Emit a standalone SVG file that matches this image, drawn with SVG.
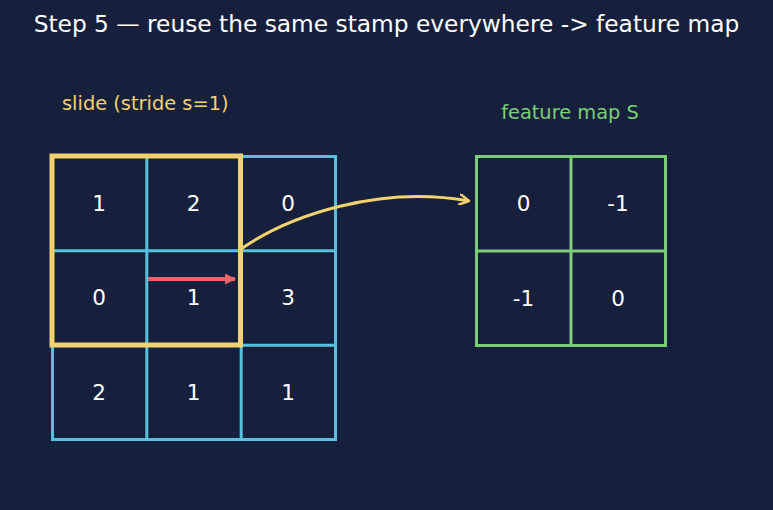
<svg xmlns="http://www.w3.org/2000/svg" width="773" height="510" viewBox="0 0 773 510">
<style>
text{font-family:"DejaVu Sans","Liberation Sans",sans-serif}
.t{fill:#ffffff;font-size:23.3px;text-anchor:middle}
.n{fill:#ffffff;font-size:21.5px;text-anchor:middle;dominant-baseline:central}
.cb{fill:none;stroke:#56c1dc;stroke-width:3}
.cg{fill:none;stroke:#7ccd78;stroke-width:3}
</style>
<defs>
<marker id="ah" viewBox="0 0 12 12" refX="10" refY="6" markerWidth="12" markerHeight="12" markerUnits="userSpaceOnUse" orient="auto">
<path d="M1,1 L10,6 L1,11" fill="none" stroke="#f2d16f" stroke-width="2.5" stroke-linecap="round" stroke-linejoin="round"/>
</marker>
<marker id="rh" viewBox="0 0 10 10" refX="9" refY="5" markerWidth="11" markerHeight="11" markerUnits="userSpaceOnUse" orient="auto">
<path d="M0,0 L10,5 L0,10 Z" fill="#f06466"/>
</marker>
</defs>
<rect width="773" height="510" fill="#16203d"/>
<text class="t" x="386.5" y="32">Step 5 — reuse the same stamp everywhere -&gt; feature map</text>
<text x="62" y="110" font-size="19.4" fill="#f2d16f">slide (stride s=1)</text>
<text x="570" y="119" font-size="19.4" fill="#7ccd78" text-anchor="middle">feature map S</text>
<g id="input">
<rect class="cb" x="52.5" y="156.5" width="283" height="283"/>
<path class="cb" d="M146.8,156.5V439.5M241.2,156.5V439.5M52.5,250.8H335.5M52.5,345.2H335.5"/>
<text class="n" x="99" y="203">1</text>
<text class="n" x="193.5" y="203">2</text>
<text class="n" x="288" y="203">0</text>
<text class="n" x="99" y="297.5">0</text>
<text class="n" x="193.5" y="297.5">1</text>
<text class="n" x="288" y="297.5">3</text>
<text class="n" x="99" y="392">2</text>
<text class="n" x="193.5" y="392">1</text>
<text class="n" x="288" y="392">1</text>
</g>
<g id="stamp">
<rect x="52" y="156" width="188.5" height="189" fill="none" stroke="#f2d16f" stroke-width="5"/>
</g>
<g id="output">
<rect class="cg" x="476.5" y="156.5" width="189" height="189"/>
<path class="cg" d="M571,156.5V345.5M476.5,251H665.5"/>
<text class="n" x="523.5" y="203.5">0</text>
<text class="n" x="618" y="203.5">-1</text>
<text class="n" x="523.5" y="298">-1</text>
<text class="n" x="618" y="298">0</text>
</g>
<g id="connectors">
<path d="M148,279H235" stroke="#f06466" stroke-width="4" fill="none" marker-end="url(#rh)"/>
<path d="M241,249C290,215 380,185 469,201" stroke="#f2d16f" stroke-width="3" fill="none" marker-end="url(#ah)"/>
</g>
</svg>
